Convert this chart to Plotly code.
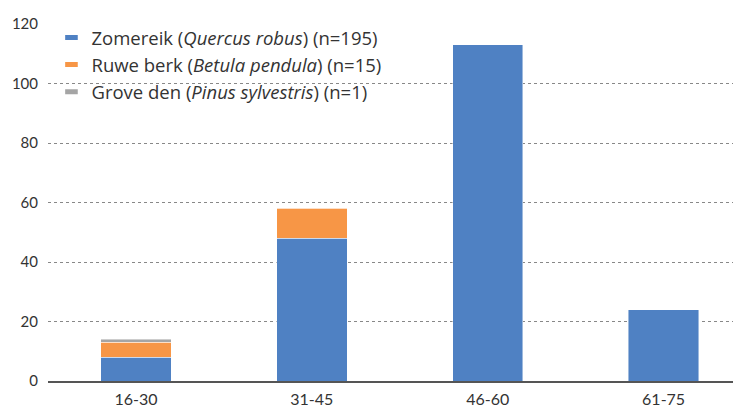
import plotly.graph_objects as go

categories = ["16-30", "31-45", "46-60", "61-75"]
zomereik = [8, 48, 113, 24]
ruwe_berk = [5, 10, 0, 0]
grove_den = [1, 0, 0, 0]
y_ticks = [0, 20, 40, 60, 80, 100, 120]

series = [
    ("Zomereik (<i>Quercus robus</i>) (n=195)", zomereik, "#4F81C3"),
    ("Ruwe berk (<i>Betula pendula</i>) (n=15)", ruwe_berk, "#F79646"),
    ("Grove den (<i>Pinus sylvestris</i>) (n=1)", grove_den, "#A5A5A5"),
]

fig = go.Figure()
for name, vals, col in series:
    fig.add_trace(go.Bar(
        x=categories, y=vals, name=name, showlegend=False, legendgroup=name,
        marker=dict(color=col, line=dict(color="rgba(255,255,255,0.45)", width=1)),
    ))
# legend entries with wide, flat swatches
for name, vals, col in series:
    fig.add_trace(go.Scatter(
        x=[None], y=[None], name=name, mode="markers", legendgroup=name,
        marker=dict(symbol="line-ew", size=9, color=col, line=dict(color=col, width=6)),
        hoverinfo="skip",
    ))

fig.update_layout(
    barmode="stack",
    bargap=0.6,
    width=733, height=402,
    margin=dict(l=40, r=0, t=16, b=29, autoexpand=False),
    paper_bgcolor="white", plot_bgcolor="white",
    font=dict(family="Lato, Open Sans, sans-serif", size=15, color="#333333"),
    legend=dict(
        x=0.005, y=1.014, xanchor="left", yanchor="top",
        traceorder="normal", tracegroupgap=0,
        font=dict(family="Open Sans, Lato, sans-serif", size=18.5, color="#333333"),
        bgcolor="rgba(0,0,0,0)",
        itemwidth=30,
    ),
    showlegend=True,
)
fig.update_yaxes(
    range=[0, 120], tickvals=y_ticks, automargin=False,
    showgrid=True, gridcolor="#888888", griddash="dot", gridwidth=1,
    zeroline=False, showline=False, ticks="", ticklabelstandoff=9,
    tickfont=dict(size=15),
)
fig.update_xaxes(
    range=[-0.5, 3.44],
    showline=True, linecolor="#555555", linewidth=1.5, automargin=False,
    ticks="", showgrid=False, tickfont=dict(size=16), ticklabelstandoff=3,
)

fig.write_html("out.html")
